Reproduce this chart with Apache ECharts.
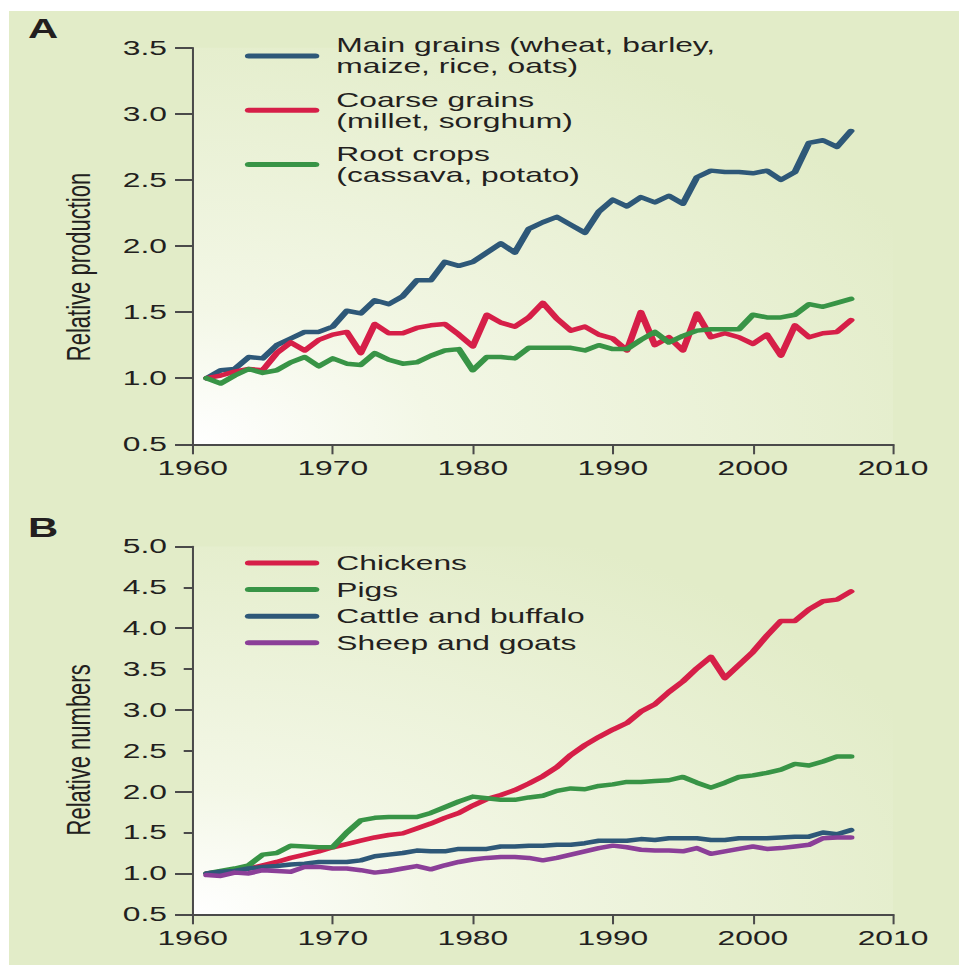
<!DOCTYPE html>
<html><head><meta charset="utf-8">
<script src="https://cdn.jsdelivr.net/npm/echarts@6/dist/echarts.min.js"></script>
<style>
html,body{margin:0;padding:0;background:#ffffff;width:959px;height:965px;overflow:hidden;}
#bg{position:absolute;left:9px;top:11px;width:950px;height:954px;background:#e2ecc8;}
#chart{position:absolute;left:0;top:0;width:618.7px;height:965px;transform:scaleX(1.55);transform-origin:0 0;}
</style></head>
<body><div id="bg"></div><div id="chart"></div>
<script>
// ---- data ----
const years = [1961,1962,1963,1964,1965,1966,1967,1968,1969,1970,
  1971,1972,1973,1974,1975,1976,1977,1978,1979,1980,
  1981,1982,1983,1984,1985,1986,1987,1988,1989,1990,
  1991,1992,1993,1994,1995,1996,1997,1998,1999,2000,
  2001,2002,2003,2004,2005,2006,2007];

const cropNames = ['Main grains (wheat, barley,\nmaize, rice, oats)', 'Coarse grains\n(millet, sorghum)', 'Root crops\n(cassava, potato)'];
const mainGrains = [1.00,1.06,1.07,1.16,1.15,1.25,1.30,1.35,1.35,1.39,
  1.51,1.49,1.59,1.56,1.62,1.74,1.74,1.88,1.85,1.88,
  1.95,2.02,1.95,2.13,2.18,2.22,2.16,2.10,2.26,2.35,
  2.30,2.37,2.33,2.38,2.32,2.52,2.57,2.56,2.56,2.55,
  2.57,2.50,2.56,2.78,2.80,2.75,2.87];
const coarseGrains = [1.00,1.02,1.05,1.07,1.06,1.19,1.27,1.21,1.29,1.33,
  1.35,1.19,1.41,1.34,1.34,1.38,1.40,1.41,1.33,1.24,
  1.48,1.42,1.39,1.46,1.57,1.45,1.36,1.39,1.33,1.30,
  1.21,1.50,1.25,1.31,1.21,1.49,1.31,1.34,1.31,1.26,
  1.33,1.17,1.40,1.31,1.34,1.35,1.44];
const rootCrops = [1.00,0.96,1.02,1.07,1.04,1.06,1.12,1.16,1.09,1.15,
  1.11,1.10,1.19,1.14,1.11,1.12,1.17,1.21,1.22,1.06,
  1.16,1.16,1.15,1.23,1.23,1.23,1.23,1.21,1.25,1.22,
  1.22,1.29,1.35,1.27,1.32,1.36,1.37,1.37,1.37,1.48,
  1.46,1.46,1.48,1.56,1.54,1.57,1.60];

const animalNames = ['Chickens', 'Pigs', 'Cattle and buffalo', 'Sheep and goats'];
const chickens = [1.00,1.02,1.04,1.06,1.10,1.14,1.19,1.23,1.27,1.32,
  1.36,1.40,1.44,1.47,1.49,1.55,1.61,1.68,1.74,1.83,
  1.91,1.96,2.02,2.10,2.19,2.30,2.45,2.57,2.67,2.76,
  2.84,2.98,3.07,3.22,3.35,3.51,3.65,3.39,3.55,3.71,
  3.91,4.09,4.09,4.23,4.33,4.35,4.45];
const pigs = [1.00,1.03,1.06,1.10,1.23,1.25,1.34,1.33,1.32,1.32,
  1.50,1.65,1.68,1.69,1.69,1.69,1.74,1.81,1.88,1.94,
  1.92,1.90,1.90,1.93,1.95,2.01,2.04,2.03,2.07,2.09,
  2.12,2.12,2.13,2.14,2.18,2.11,2.05,2.11,2.18,2.20,
  2.23,2.27,2.34,2.32,2.37,2.43,2.43];
const cattle = [1.00,1.02,1.03,1.06,1.08,1.09,1.11,1.12,1.14,1.14,
  1.14,1.16,1.21,1.23,1.25,1.28,1.27,1.27,1.30,1.30,
  1.30,1.33,1.33,1.34,1.34,1.35,1.35,1.37,1.40,1.40,
  1.40,1.42,1.41,1.43,1.43,1.43,1.41,1.41,1.43,1.43,
  1.43,1.44,1.45,1.45,1.50,1.48,1.53];
const sheep = [0.98,0.97,1.01,1.00,1.04,1.03,1.02,1.08,1.08,1.06,
  1.06,1.04,1.01,1.03,1.06,1.09,1.05,1.10,1.14,1.17,
  1.19,1.20,1.20,1.19,1.16,1.19,1.23,1.27,1.31,1.34,
  1.32,1.29,1.28,1.28,1.27,1.31,1.24,1.27,1.30,1.33,
  1.30,1.31,1.33,1.35,1.43,1.44,1.44];

const xTickYears = [1960, 1970, 1980, 1990, 2000, 2010];
const yTicksA = [0.5, 1.0, 1.5, 2.0, 2.5, 3.0, 3.5];
const yTicksB = [0.5, 1.0, 1.5, 2.0, 2.5, 3.0, 3.5, 4.0, 4.5, 5.0];
const yMajorB = [0.5, 1, 2, 3, 4, 5];

// ---- layout / style ----
const S = 1.55;
const W = 959 / S;
const FONT = '"Liberation Sans", Arial, Helvetica, sans-serif';
const TXT = '#231f20';
const AX = '#4a4a4a';
const BLUE = '#2e5878', RED = '#d61f48', GREEN = '#389446', PURPLE = '#8b3f98';
const gridL = 192.7 / S, gridR = W - 893 / S;
const ICON = 'path://M2.5,0 L45.5,0 A2.5,2.5 0 0 1 45.5,5 L2.5,5 A2.5,2.5 0 0 1 2.5,0 Z';

const chart = echarts.init(document.getElementById('chart'), null, {renderer: 'svg', width: W, height: 965});

function bg() {
  return new echarts.graphic.RadialGradient(0, 1, 1.15, [
    {offset: 0, color: '#ffffff'},
    {offset: 0.3, color: '#f3f7e6'},
    {offset: 1, color: '#e2ecc8'}
  ]);
}
function pairs(vals) { return years.map((y, i) => [y, vals[i]]); }

function xAxis(gi) {
  return {
    gridIndex: gi, type: 'value', min: xTickYears[0], max: xTickYears[xTickYears.length - 1], interval: 10,
    axisLine: {show: true, onZero: false, lineStyle: {color: AX, width: 2}},
    axisTick: {show: true, length: 10, lineStyle: {color: AX, width: 1.3}},
    splitLine: {show: false},
    axisLabel: {fontSize: 20.5, color: TXT, margin: 13, fontFamily: FONT, formatter: v => String(v)}
  };
}
function yAxis(gi, ticks, tickLen, name, padR) {
  return {
    gridIndex: gi, type: 'value', position: 'left', min: ticks[0], max: ticks[ticks.length - 1], interval: 0.5,
    axisLine: {show: true, onZero: false, lineStyle: {color: AX, width: 1.3}},
    axisTick: {show: true, length: tickLen, lineStyle: {color: AX, width: 2}},
    splitLine: {show: false},
    axisLabel: {fontSize: 20.5, color: TXT, margin: 16.6, fontFamily: FONT, formatter: v => v.toFixed(1)},
    name: name, nameLocation: 'middle', nameRotate: 90, nameGap: 63,
    nameTextStyle: {fontSize: 22, color: TXT, fontFamily: FONT, padding: [0, padR, 0, 0]}
  };
}
function line(name, vals, color, xi, yi) {
  return {
    name: name, type: 'line', xAxisIndex: xi, yAxisIndex: yi, data: pairs(vals),
    symbol: 'none', showSymbol: false, smooth: false,
    lineStyle: {color: color, width: 4.5, cap: 'round', join: 'round'},
    itemStyle: {color: color}
  };
}

const legendText = {fontSize: 20.5, lineHeight: 21, color: TXT, fontFamily: FONT, padding: [0, 0, 0, 6]};

const option = {
  animation: false,
  textStyle: {fontFamily: FONT},
  title: [
    {text: 'A', left: 18, top: 15, padding: 0, textStyle: {fontSize: 27, fontWeight: 'bold', color: TXT, fontFamily: FONT}},
    {text: 'B', left: 18, top: 514, padding: 0, textStyle: {fontSize: 27, fontWeight: 'bold', color: TXT, fontFamily: FONT}}
  ],
  grid: [
    {left: gridL, right: gridR, top: 47.7, bottom: 965 - 444.3, show: true, borderWidth: 0, backgroundColor: bg()},
    {left: gridL, right: gridR, top: 546.5, bottom: 965 - 914.3, show: true, borderWidth: 0, backgroundColor: bg()}
  ],
  legend: [
    {data: cropNames, orient: 'vertical', left: 158, top: 35, padding: 0, icon: ICON, itemWidth: 48, itemHeight: 5, itemGap: 12.3,
     textStyle: legendText, selectedMode: false},
    {data: animalNames, orient: 'vertical', left: 158, top: 552.5, padding: 0, icon: ICON, itemWidth: 48, itemHeight: 5, itemGap: 5.6,
     textStyle: legendText, selectedMode: false}
  ],
  xAxis: [xAxis(0), xAxis(1)],
  yAxis: [
    yAxis(0, yTicksA, 11.4, 'Relative production', 42),
    yAxis(1, yTicksB, 5.8, 'Relative numbers', 39),
    {gridIndex: 1, type: 'value', position: 'left', offset: 0, min: yTicksB[0], max: yTicksB[yTicksB.length - 1], interval: 0.5,
     axisLine: {show: false, onZero: false}, axisLabel: {show: false}, splitLine: {show: false},
     axisTick: {show: true, length: 11.4, customValues: yMajorB, lineStyle: {color: AX, width: 2}}}
  ],
  series: [
    line(cropNames[0], mainGrains, BLUE, 0, 0),
    line(cropNames[1], coarseGrains, RED, 0, 0),
    line(cropNames[2], rootCrops, GREEN, 0, 0),
    line(animalNames[0], chickens, RED, 1, 1),
    line(animalNames[1], pigs, GREEN, 1, 1),
    line(animalNames[2], cattle, BLUE, 1, 1),
    line(animalNames[3], sheep, PURPLE, 1, 1)
  ]
};
chart.setOption(option);
</script>
</body></html>
